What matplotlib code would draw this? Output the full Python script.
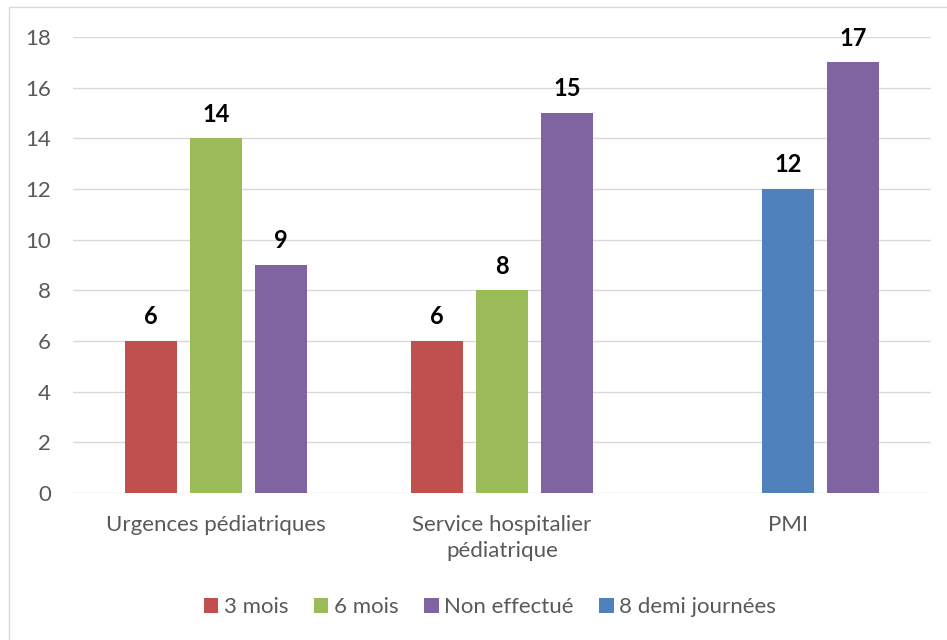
import numpy as np
import matplotlib.pyplot as plt
from matplotlib.patches import Rectangle

categories = ['Urgences pédiatriques', 'Service hospitalier\npédiatrique', 'PMI']
series_names = ['3 mois', '6 mois', 'Non effectué', '8 demi journées']
vals_3mois = [6, 6, None]
vals_6mois = [14, 8, None]
vals_non_effectue = [9, 15, 17]
vals_8demi = [None, None, 12]
y_ticks = [0, 2, 4, 6, 8, 10, 12, 14, 16, 18]

colors = {'3 mois': '#C0504D', '6 mois': '#9BBB59',
          'Non effectué': '#8064A2', '8 demi journées': '#4F81BD'}
# slot within a category cluster (-1, 0, +1)
slots = {'3 mois': -1, '6 mois': 0, 'Non effectué': 1, '8 demi journées': 0}
data = {'3 mois': vals_3mois, '6 mois': vals_6mois,
        'Non effectué': vals_non_effectue, '8 demi journées': vals_8demi}

plt.rcParams['font.family'] = ['Lato', 'DejaVu Sans']

W, H = 947, 640
fig = plt.figure(figsize=(W / 100, H / 100), dpi=100)

# outer chart border (only top/left visible in the crop)
fig.patches.append(Rectangle((9 / W, -0.05), 1.2, (H - 7) / H + 0.05,
                             transform=fig.transFigure, fill=False,
                             edgecolor='#D9D9D9', linewidth=1.0))

ax = fig.add_axes([73 / W, (H - 493) / H, 858 / W, 456 / H])

bar_w = 0.182
step = 0.227
x = np.arange(len(categories))
handles = {}
for name in series_names:
    xs, ys = [], []
    for i, v in enumerate(data[name]):
        if v is not None:
            xs.append(x[i] + slots[name] * step)
            ys.append(v)
    b = ax.bar(xs, ys, width=bar_w, color=colors[name], zorder=3, label=name)
    handles[name] = b
    for xi, yi in zip(xs, ys):
        ax.text(xi, yi + 0.5, str(yi), ha='center', va='bottom',
                fontsize=17, fontweight='bold', color='black')

ax.set_xlim(-0.5, len(categories) - 0.5)
ax.set_ylim(0, 18)
ax.set_yticks(y_ticks)
ax.set_xticks(x)
ax.set_xticklabels(categories, fontsize=16, color='#595959', linespacing=1.35)
ax.tick_params(axis='y', labelsize=16, labelcolor='#595959', length=0, pad=16)
ax.tick_params(axis='x', length=0, pad=16)
ax.grid(axis='y', color='#D9D9D9', linewidth=1.0, zorder=0)
for s in ax.spines.values():
    s.set_visible(False)

leg = fig.legend([handles[n] for n in series_names], series_names,
                 loc='center', bbox_to_anchor=(490 / W, (H - 607) / H), ncol=4,
                 frameon=False, fontsize=16, handlelength=0.65, handleheight=0.65,
                 handletextpad=0.25, columnspacing=1.15)
for t in leg.get_texts():
    t.set_color('#595959')

fig.savefig('out.png', dpi=100)
